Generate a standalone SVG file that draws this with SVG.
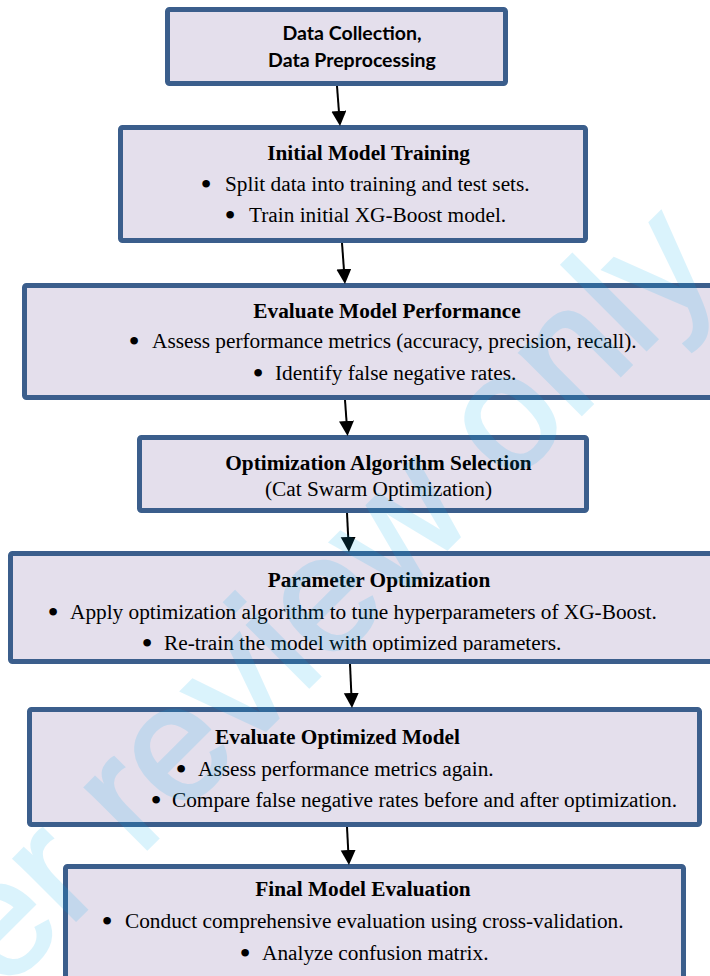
<svg xmlns="http://www.w3.org/2000/svg" width="710" height="976" viewBox="0 0 710 976">
  <defs>
    <marker id="head" markerUnits="userSpaceOnUse" markerWidth="16" markerHeight="16" refX="0" refY="7.5" orient="auto">
      <path d="M0,0 L15,7.5 L0,15 z" fill="#000"/>
    </marker>
    <clipPath id="clip-param">
      <rect x="0" y="553" width="710" height="99"/>
    </clipPath>
  </defs>
  <style>
    .box { fill: #E4DFEC; stroke: #3B5E8C; stroke-width: 5; }
    .head1 { font-family: "Lato", "Liberation Sans", sans-serif; font-weight: 700; font-size: 19.5px; fill: #000; text-anchor: middle; }
    .title { font-family: "Liberation Serif", "Times New Roman", serif; font-weight: 700; font-size: 21.3px; fill: #000; text-anchor: middle; }
    .sub { font-family: "Liberation Serif", "Times New Roman", serif; font-size: 21.3px; fill: #000; text-anchor: middle; }
    .item { font-family: "Liberation Serif", "Times New Roman", serif; font-size: 21.3px; fill: #000; }
    .dot { font-family: "Liberation Serif", "Times New Roman", serif; font-size: 32px; fill: #000; text-anchor: middle; }
    .link { stroke: #000; stroke-width: 2; fill: none; marker-end: url(#head); }
    .mark { font-family: "Liberation Sans", Arial, sans-serif; font-size: 165px; fill: #00AEEF; stroke: #00AEEF; stroke-width: 3; opacity: 0.14; }
  </style>

  <rect width="710" height="976" fill="#fff"/>

  <g id="node-data">
    <rect class="box" x="167.5" y="9.5" width="338" height="74" rx="2"/>
    <text class="head1" x="352" y="40">Data Collection,</text>
    <text class="head1" x="352" y="67">Data Preprocessing</text>
  </g>

  <g id="node-initial">
    <rect class="box" x="120.5" y="127.5" width="465" height="113" rx="2"/>
    <text class="title" x="368.5" y="160">Initial Model Training</text>
    <text class="dot" x="206" y="195">•</text>
    <text class="item" x="225" y="191">Split data into training and test sets.</text>
    <text class="dot" x="230" y="226">•</text>
    <text class="item" x="249" y="222">Train initial XG-Boost model.</text>
  </g>

  <g id="node-evaluate">
    <rect class="box" x="24.5" y="285.5" width="700" height="112" rx="2"/>
    <text class="title" x="387" y="318">Evaluate Model Performance</text>
    <text class="dot" x="134" y="352">•</text>
    <text class="item" x="152" y="348">Assess performance metrics (accuracy, precision, recall).</text>
    <text class="dot" x="258" y="384">•</text>
    <text class="item" x="275" y="380">Identify false negative rates.</text>
  </g>

  <g id="node-selection">
    <rect class="box" x="139.5" y="437.5" width="447" height="73" rx="2"/>
    <text class="title" x="378.5" y="470">Optimization Algorithm Selection</text>
    <text class="sub" x="378.5" y="496">(Cat Swarm Optimization)</text>
  </g>

  <g id="node-parameter">
    <rect class="box" x="10.5" y="553.5" width="710" height="108" rx="2"/>
    <text class="title" x="379" y="587">Parameter Optimization</text>
    <text class="dot" x="53" y="623">•</text>
    <text class="item" x="70" y="619">Apply optimization algorithm to tune hyperparameters of XG-Boost.</text>
    <g clip-path="url(#clip-param)">
      <text class="dot" x="147" y="654">•</text>
      <text class="item" x="164" y="650">Re-train the model with optimized parameters.</text>
    </g>
  </g>

  <g id="node-optimized">
    <rect class="box" x="29.5" y="709.5" width="670" height="115" rx="2"/>
    <text class="title" x="337.5" y="744">Evaluate Optimized Model</text>
    <text class="dot" x="181" y="780">•</text>
    <text class="item" x="198" y="776">Assess performance metrics again.</text>
    <text class="dot" x="156" y="811">•</text>
    <text class="item" x="172" y="807">Compare false negative rates before and after optimization.</text>
  </g>

  <g id="node-final">
    <rect class="box" x="65.5" y="866.5" width="618" height="120" rx="2"/>
    <text class="title" x="363" y="896">Final Model Evaluation</text>
    <text class="dot" x="107" y="932">•</text>
    <text class="item" x="125" y="928">Conduct comprehensive evaluation using cross-validation.</text>
    <text class="dot" x="245" y="964">•</text>
    <text class="item" x="262" y="960">Analyze confusion matrix.</text>
  </g>

  <g id="connectors">
    <line class="link" x1="337" y1="86" x2="338.9" y2="111"/>
    <line class="link" x1="342" y1="243" x2="343.9" y2="269"/>
    <line class="link" x1="345" y1="400" x2="346.5" y2="421"/>
    <line class="link" x1="347" y1="513" x2="348.2" y2="537"/>
    <line class="link" x1="350" y1="664" x2="351.3" y2="693"/>
    <line class="link" x1="347" y1="827" x2="348.2" y2="850"/>
  </g>

  <!-- diagonal watermark laid over the page -->
  <text class="mark" transform="translate(-334,1330) rotate(-45)">For peer review only</text>
</svg>
